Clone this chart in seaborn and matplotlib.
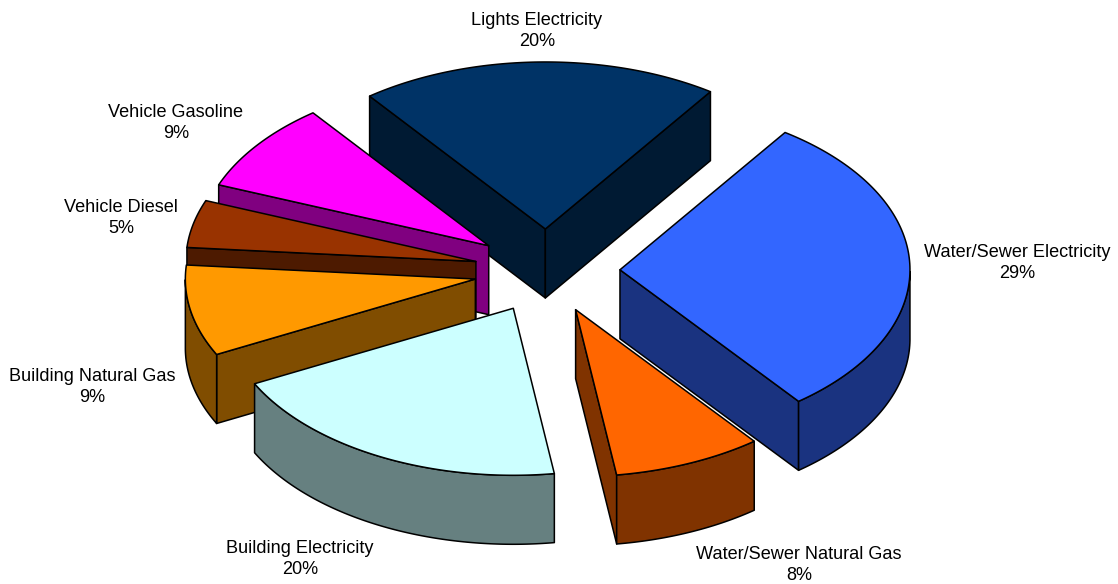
# packages
import numpy as np
import seaborn as sns
import matplotlib.pyplot as plt
from matplotlib.patches import Polygon

# data, clockwise from the start of Lights Electricity
categories = ["Lights Electricity", "Water/Sewer Electricity", "Water/Sewer Natural Gas",
              "Building Electricity", "Building Natural Gas", "Vehicle Diesel", "Vehicle Gasoline"]
shares = [20.0, 29.8, 8.3, 19.8, 8.8, 4.6, 8.7]  # as measured off the slices
share_labels = ["20%", "29%", "8%", "20%", "9%", "5%", "9%"]  # as printed on the chart
top_colors = ["#003366", "#3366FF", "#FF6600", "#CCFFFF", "#FF9900", "#993300", "#FF00FF"]
side_colors = ["#001A33", "#1A3380", "#803300", "#668080", "#804D00", "#4D1A00", "#800080"]
label_pos = [(537, 31), (1017, 263), (799, 565), (300, 559), (92, 387), (121, 218), (176, 123)]

# pie shape, in pixels of the picture
cx, cy = 547, 271
rx, ry = 290, 167
depth = 69
explode = 73
start_angle = 127.3
draw_order = [0, 1, 2, 6, 5, 4, 3]

sns.set_theme(style="white")
plt.rcParams["font.family"] = ["Liberation Sans", "DejaVu Sans"]

fig = plt.figure(figsize=(11.18, 5.84), dpi=100)
ax = fig.add_axes([0, 0, 1, 1])
ax.set_xlim(0, 1118)
ax.set_ylim(584, 0)
ax.axis("off")

palette = sns.color_palette(top_colors)
side_palette = sns.color_palette(side_colors)


def project(theta, apex, r=1.0):
    return np.column_stack([apex[0] + r * rx * np.cos(theta), apex[1] - r * ry * np.sin(theta)])


def add_face(points, color, z):
    ax.add_patch(Polygon(points, closed=True, facecolor=color, edgecolor="black",
                         linewidth=1.1, joinstyle="round", zorder=z))


# slice boundaries from the shares
ends = start_angle - np.cumsum(shares) * 3.6
starts = np.r_[start_angle, ends[:-1]]

for z, i in enumerate(draw_order):
    t1, t2 = np.radians(starts[i]), np.radians(ends[i])
    mid = (t1 + t2) / 2
    apex = (cx + explode * np.cos(mid), cy - explode * ry / rx * np.sin(mid))
    down = np.array([0, depth])
    base = 10 * z
    # radial walls that face the viewer
    for t, visible in ((t1, np.cos(t1) < 0), (t2, np.cos(t2) > 0)):
        if visible:
            edge = np.vstack([apex, project(np.array([t]), apex)])
            add_face(np.vstack([edge, edge[::-1] + down]), side_palette[i], base + 1)
    # outer rim, only the part on the front half
    rim = np.linspace(t1, t2, 120)
    rim = rim[np.sin(rim) <= 0]
    if len(rim) > 1:
        arc = project(rim, apex)
        add_face(np.vstack([arc, arc[::-1] + down]), side_palette[i], base + 2)
    # top
    arc = project(np.linspace(t1, t2, 120), apex)
    add_face(np.vstack([apex, arc]), palette[i], base + 3)

for name, pct, (x, y) in zip(categories, share_labels, label_pos):
    ax.text(x, y, f"{name}\n{pct}", ha="center", va="center", fontsize=13.1,
            color="black", linespacing=1.38, zorder=200)

fig.savefig("out.png", dpi=100)
